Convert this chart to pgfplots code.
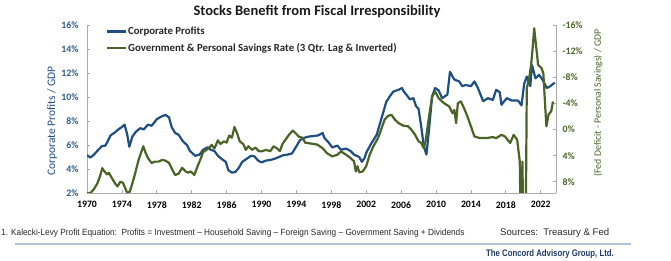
\documentclass[border=0pt]{standalone}
\usepackage{pgfplots}
\pgfplotsset{compat=1.18}
\usepackage{fontspec}
\setmainfont{Carlito}
\newfontfamily\arialfont{Liberation Sans}
\definecolor{cblue}{RGB}{31,78,131}
\definecolor{cgreen}{RGB}{74,100,38}
\definecolor{axgray}{RGB}{170,170,170}
\definecolor{ticblue}{RGB}{46,92,138}
\definecolor{navy}{RGB}{31,56,100}
\definecolor{sepline}{RGB}{175,195,210}

\pgfplotstableread{
x y
1970.0 5.15
1970.4 4.95
1970.8 5.2
1971.3 5.6
1971.7 5.9
1972.1 5.95
1972.3 6.2
1972.7 6.8
1973.2 7.05
1973.6 7.3
1974.0 7.5
1974.3 7.7
1974.6 6.9
1974.85 5.85
1975.2 6.7
1975.6 7.1
1976.1 7.4
1976.5 7.3
1977.0 7.7
1977.4 7.6
1978.0 8.15
1978.6 8.4
1979.0 8.5
1979.4 8.3
1979.7 7.5
1980.1 7.0
1980.5 6.85
1981.0 6.3
1981.45 6.0
1981.8 5.5
1982.4 5.1
1982.9 5.2
1983.3 5.6
1983.8 5.8
1984.2 5.6
1984.6 5.5
1985.0 5.1
1985.5 4.8
1985.9 4.6
1986.2 3.9
1986.6 3.7
1987.0 3.75
1987.4 4.1
1987.8 4.6
1988.3 4.85
1988.8 5.1
1989.2 5.05
1989.6 4.7
1990.0 4.55
1990.5 4.7
1991.0 4.75
1991.5 4.85
1992.0 5.0
1992.5 5.15
1993.0 5.2
1993.5 5.3
1994.0 5.9
1994.4 6.4
1994.9 6.6
1995.4 6.7
1996.0 6.75
1996.5 6.8
1997.0 7.0
1997.2 6.6
1997.7 6.2
1998.1 5.8
1998.7 5.95
1999.1 5.6
1999.7 5.7
2000.2 5.5
2000.6 5.2
2001.2 5.0
2001.5 4.6
2001.8 4.9
2002.0 5.35
2002.6 6.15
2003.2 6.85
2003.7 8.1
2004.3 9.6
2004.7 10.05
2005.1 10.45
2005.7 10.6
2006.1 10.75
2006.3 10.45
2006.6 10.2
2007.0 9.8
2007.4 9.9
2007.7 9.25
2008.0 9.0
2008.3 7.55
2008.6 5.9
2008.9 5.2
2009.2 7.3
2009.55 10.05
2009.9 10.75
2010.3 10.55
2010.7 9.9
2011.3 10.2
2011.6 12.1
2012.1 11.45
2012.65 11.3
2013.0 10.9
2013.4 11.0
2014.0 10.9
2014.4 11.3
2014.8 10.75
2015.4 9.65
2015.95 9.9
2016.5 9.75
2016.9 10.6
2017.3 10.4
2017.5 9.35
2018.1 9.9
2018.7 9.7
2019.4 9.7
2019.8 9.3
2020.1 11.1
2020.4 11.7
2020.8 10.9
2021.0 12.65
2021.4 11.55
2021.8 11.85
2022.2 11.45
2022.7 10.75
2023.1 10.9
2023.6 11.2
}\profits

\pgfplotstableread{
x y
1970.0 9.7
1970.4 9.7
1970.8 9.1
1971.2 8.2
1971.5 7.1
1971.75 5.9
1972.0 6.4
1972.3 6.85
1972.5 6.6
1972.8 7.3
1973.2 8.2
1973.5 8.7
1973.8 8.0
1974.1 8.1
1974.4 9.0
1974.6 9.7
1974.9 9.5
1975.2 8.2
1975.5 6.8
1975.9 4.7
1976.2 3.5
1976.45 2.55
1976.7 3.5
1977.0 4.4
1977.4 5.1
1977.8 4.9
1978.2 4.9
1978.6 4.65
1979.0 4.75
1979.4 5.1
1979.8 6.2
1980.1 6.95
1980.5 6.75
1980.9 5.85
1981.3 6.4
1981.6 6.6
1981.9 6.4
1982.3 6.95
1982.6 5.85
1983.0 4.55
1983.3 3.45
1983.7 3.1
1984.0 2.75
1984.3 2.35
1984.6 2.9
1985.0 1.65
1985.3 2.2
1985.7 1.8
1986.0 2.0
1986.3 0.9
1986.6 1.25
1986.9 -0.4
1987.2 0.55
1987.5 1.8
1987.9 2.2
1988.2 3.1
1988.5 2.55
1988.9 3.1
1989.3 2.75
1989.7 3.3
1990.1 3.3
1990.5 3.1
1991.0 3.3
1991.4 2.55
1991.8 2.9
1992.1 3.3
1992.4 2.2
1992.8 1.45
1993.2 0.7
1993.6 0.15
1993.9 0.55
1994.3 1.1
1994.7 1.25
1995.0 2.0
1995.5 2.1
1996.4 2.3
1997.0 2.85
1997.5 3.6
1998.1 4.1
1998.7 3.85
1999.1 3.35
1999.7 3.85
2000.2 4.35
2000.6 4.85
2000.8 6.4
2001.0 5.6
2001.2 6.55
2001.6 6.4
2002.0 5.6
2002.4 3.85
2002.8 2.6
2003.35 1.3
2003.7 0.05
2004.1 -1.5
2004.5 -2.1
2004.9 -2.25
2005.3 -1.5
2005.7 -1.0
2006.25 -0.6
2006.8 -0.5
2007.2 0.05
2007.6 0.8
2008.0 1.8
2008.3 2.05
2008.6 2.85
2008.8 1.8
2009.2 -2.0
2009.55 -5.05
2009.9 -5.8
2010.3 -4.8
2010.9 -4.05
2011.5 -3.55
2011.9 -2.5
2012.1 -3.0
2012.3 -1.0
2012.5 -4.05
2012.85 -4.3
2013.2 -3.3
2013.6 -2.0
2014.0 -0.5
2014.4 1.05
2015.0 1.3
2015.75 1.3
2016.5 1.15
2016.9 1.3
2017.5 0.8
2017.9 1.05
2018.5 2.05
2018.9 0.8
2019.3 1.55
2019.6 4.9
2019.75 20
2019.9 4.9
2020.05 20
2020.25 20
2020.4 -6.3
2020.7 -8.1
2020.9 -9.9
2021.1 -12.9
2021.25 -15.5
2021.5 -12.4
2021.7 -9.9
2022.1 -9.4
2022.3 -8.6
2022.5 -3.8
2022.65 -0.5
2022.9 -2.3
2023.2 -2.8
2023.4 -4.3
}\savings

\begin{document}
\begin{tikzpicture}[x=1pt,y=1pt]
\path (0,0) rectangle (671,261);
\begin{axis}[
  at={(87pt,68pt)}, anchor=south west, scale only axis,
  width=469pt, height=168pt,
  xmin=1970, xmax=2023.75, ymin=2, ymax=16,
  axis x line*=bottom, axis y line*=left,
  axis line style={draw=axgray, line width=0.8pt},
  tick style={draw=axgray, line width=0.8pt},
  major tick length=3pt,
  xtick={1970,1974,...,2022},
  xticklabels={1970,1974,1978,1982,1986,1990,1994,1998,2002,2006,2010,2014,2018,2022},
  ytick={2,4,...,16},
  yticklabels={2\%,4\%,6\%,8\%,10\%,12\%,14\%,16\%},
  xticklabel style={font=\bfseries\fontsize{9.8}{10}\selectfont, text=black, yshift=-5pt},
  yticklabel style={font=\bfseries\fontsize{9.8}{10}\selectfont, text=ticblue, xshift=-5pt},
  legend style={at={(rel axis cs:0.04,0.995)}, anchor=north west, draw=none, fill=none,
    font=\bfseries\fontsize{10.8}{11}\selectfont, text=black!85, row sep=5pt,
    inner sep=0pt, nodes={inner sep=1pt}},
  legend cell align=left,
  legend image code/.code={\draw[#1, line width=2.2pt] (0pt,0pt) -- (19pt,0pt);},
]
\addplot[cblue, line width=2.2pt, line join=round] table[x=x,y=y] {\profits};
\addlegendentry{Corporate Profits}
\addlegendimage{cgreen, line width=2.2pt}
\addlegendentry{Government \& Personal Savings Rate (3 Qtr. Lag \& Inverted)}
\end{axis}
\begin{axis}[
  at={(87pt,68pt)}, anchor=south west, scale only axis,
  width=469pt, height=168pt,
  xmin=1970, xmax=2023.75, ymin=-16, ymax=9.7, y dir=reverse,
  axis x line=none, axis y line*=right,
  axis line style={draw=axgray, line width=0.8pt},
  tick style={draw=axgray, line width=0.8pt},
  major tick length=3pt,
  ytick={-16,-12,...,8},
  yticklabels={-16\%,-12\%,-8\%,-4\%,0\%,4\%,8\%},
  yticklabel style={font=\bfseries\fontsize{9.8}{10}\selectfont, text=cgreen, xshift=3pt},
]
\addplot[cgreen, line width=2.2pt, line join=round] table[x=x,y=y] {\savings};
\end{axis}
\node[font=\bfseries\fontsize{14.5}{16}\selectfont, text=black!90] at (317,249) {Stocks Benefit from Fiscal Irresponsibility};
\node[rotate=90, font=\fontsize{11.5}{12}\selectfont, text=cblue] at (52,140) {Corporate Profits / GDP};
\node[rotate=90, font=\fontsize{9.8}{10}\selectfont, text=cgreen] at (598,158) {(Fed Deficit - Personal Savings) / GDP};
\node[anchor=west, inner sep=0pt, font=\arialfont\fontsize{9}{9}\selectfont, text=black!85] at (1,28) {\scalebox{0.92}[1]{1. Kalecki-Levy Profit Equation:\ \ Profits = Investment – Household Saving – Foreign Saving – Government Saving + Dividends}};
\node[anchor=west, inner sep=0pt, font=\arialfont\fontsize{9.6}{10}\selectfont, text=black!85] at (500,28) {Sources:\ \ Treasury \& Fed};
\draw[sepline, line width=1.5pt] (15,17) -- (631,17);
\node[anchor=east, inner sep=0pt, font=\arialfont\bfseries\fontsize{9.5}{10}\selectfont, text=navy] at (614,7) {\scalebox{0.82}[1]{The Concord Advisory Group, Ltd.}};
\end{tikzpicture}
\end{document}
